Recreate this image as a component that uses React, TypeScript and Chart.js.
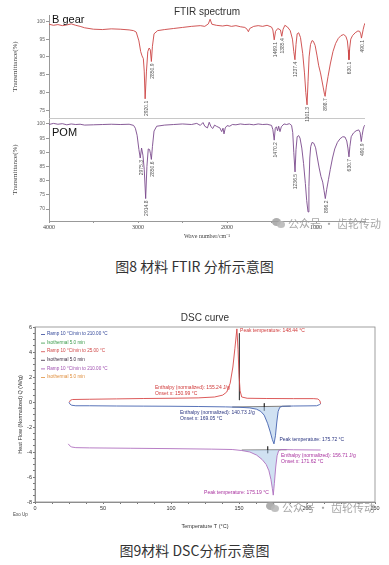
import React, { useEffect, useRef } from 'react';
import { Chart, registerables } from 'chart.js';

Chart.register(...registerables);

const SANS = '"Liberation Sans", Arial, sans-serif';
const SERIF = '"Liberation Serif", "Times New Roman", serif';
const CJK = '"Noto Sans CJK SC", "Noto Sans", sans-serif';

// ---------------- FTIR data ----------------
const ftirTitle = 'FTIR spectrum';
const ftirPanelNames = ['B gear', 'POM'];
const ftirXLabels = [4000, 3000, 2000, 1000];
const ftirXMinor = [3500, 2500, 1500, 500];
const bgearTicks = [75, 80, 85, 90, 95, 100];
const pomTicks = [70, 75, 80, 85, 90, 95, 100];

const bgearWn = [4000, 3950, 3900, 3850, 3800, 3750, 3700, 3650, 3600, 3500, 3400, 3300, 3200, 3100, 3050, 3020, 2990, 2970, 2955, 2940, 2930, 2920, 2905, 2890, 2875, 2862, 2850, 2838, 2820, 2780, 2700, 2600, 2500, 2400, 2300, 2250, 2210, 2190, 2170, 2120, 2050, 2000, 1950, 1900, 1850, 1800, 1775, 1760, 1745, 1700, 1650, 1600, 1550, 1500, 1485, 1470, 1455, 1430, 1400, 1385, 1370, 1350, 1320, 1290, 1265, 1250, 1237, 1225, 1212, 1195, 1175, 1150, 1130, 1115, 1101, 1090, 1078, 1062, 1045, 1030, 1010, 990, 970, 950, 935, 920, 905, 898, 885, 865, 840, 810, 780, 750, 720, 690, 665, 648, 638, 630, 622, 610, 590, 560, 530, 510, 498, 490, 482, 470, 460, 450];
const bgearT = [99.2, 98.9, 99.1, 98.8, 99.0, 99.3, 98.9, 98.6, 98.2, 97.8, 97.7, 97.9, 97.8, 97.6, 97.4, 97.0, 94.5, 91.5, 90.3, 89.5, 86.0, 78.2, 86.0, 91.5, 92.5, 92.0, 88.7, 93.0, 96.5, 97.4, 97.7, 98.0, 98.3, 98.6, 98.8, 98.6, 99.3, 100.6, 99.2, 98.9, 98.7, 98.9, 98.6, 98.8, 98.5, 98.3, 97.8, 97.1, 98.0, 98.6, 98.8, 98.6, 98.9, 98.4, 97.6, 94.8, 97.2, 98.0, 97.6, 95.8, 97.8, 98.9, 98.4, 97.4, 95.0, 91.5, 89.2, 93.5, 96.5, 96.8, 95.5, 91.0, 85.5, 80.0, 76.5, 83.0, 90.0, 93.5, 94.6, 94.4, 93.2, 90.5, 87.5, 85.5, 83.5, 81.5, 79.5, 78.9, 81.5, 84.5, 88.0, 91.5, 93.8, 95.2, 96.0, 96.3, 95.8, 94.5, 92.0, 89.2, 92.5, 95.0, 96.0, 96.8, 97.3, 97.2, 96.5, 95.3, 96.2, 97.8, 98.8, 99.5];

const pomWn = [4000, 3950, 3900, 3850, 3800, 3750, 3700, 3650, 3600, 3500, 3400, 3300, 3200, 3100, 3050, 3030, 3010, 2990, 2975, 2960, 2945, 2930, 2914, 2900, 2885, 2870, 2860, 2850, 2838, 2820, 2790, 2700, 2600, 2500, 2400, 2340, 2300, 2270, 2250, 2220, 2200, 2180, 2160, 2140, 2120, 2080, 2060, 2045, 2034, 2020, 2000, 1970, 1940, 1900, 1850, 1800, 1750, 1700, 1650, 1600, 1550, 1500, 1485, 1470, 1458, 1445, 1432, 1420, 1405, 1390, 1360, 1330, 1300, 1275, 1262, 1250, 1236, 1225, 1212, 1195, 1180, 1160, 1140, 1120, 1105, 1090, 1080, 1070, 1060, 1045, 1025, 1005, 985, 965, 945, 925, 910, 896, 880, 860, 840, 815, 790, 760, 730, 700, 675, 655, 642, 630, 620, 605, 580, 550, 520, 505, 492, 482, 470, 460, 450];
const pomT = [99.8, 100.2, 99.9, 100.1, 99.7, 100.0, 99.8, 99.9, 99.6, 99.7, 99.8, 99.9, 99.8, 99.9, 99.5, 98.5, 96.0, 91.0, 88.0, 91.5, 89.0, 84.0, 73.7, 85.0, 91.2, 91.0, 89.5, 87.5, 92.0, 97.5, 99.2, 99.6, 99.8, 100.0, 99.8, 100.2, 99.5, 100.5, 99.2, 98.6, 100.6, 99.0, 98.4, 99.6, 99.2, 98.6, 97.3, 98.5, 96.5, 98.6, 99.4, 99.2, 99.8, 99.7, 100.0, 99.8, 99.9, 99.7, 100.0, 99.8, 99.9, 99.5, 98.0, 94.3, 98.5, 99.0, 97.6, 99.2, 97.3, 99.0, 100.0, 99.8, 100.1, 99.5, 97.0, 90.0, 83.1, 91.0, 95.5, 95.9, 95.0, 91.5, 86.0, 79.0, 73.0, 69.0, 78.0, 88.0, 92.0, 93.5, 93.2, 91.6, 88.0, 84.5, 81.5, 79.5, 76.5, 73.7, 77.0, 80.5, 84.0, 88.0, 91.2, 93.5, 94.8, 95.5, 95.4, 94.0, 91.5, 88.4, 92.0, 95.5, 96.8, 97.6, 97.9, 97.0, 93.8, 96.0, 98.2, 99.2, 99.6];

const bgearPeakWn = [2920, 2850, 1470, 1385, 1237, 1101, 898, 630, 490];
const bgearPeakT = [78.2, 88.7, 94.8, 95.8, 89.2, 76.5, 78.9, 89.2, 95.3];
const bgearPeakLabels = ['2920.1', '2850.9', '1469.1', '1385.4', '1237.4', '1101.3', '898.7', '630.1', '490.1'];

const pomPeakWn = [2975, 2914, 2850, 1470, 1236, 896, 630, 492];
const pomPeakT = [88.0, 73.7, 87.5, 94.3, 83.1, 73.7, 88.4, 93.8];
const pomPeakLabels = ['2975.3', '2914.8', '2850.6', '1470.2', '1236.5', '896.2', '630.7', '490.9'];

// ---------------- DSC data ----------------
const dscTitle = 'DSC curve';
const dscXLabels = [0, 50, 100, 150, 200, 250];
const dscYLabels = [-8, -6, -4, -2, 0, 2, 4, 6];

const dscRedT = [25.3, 26, 27.5, 40, 60, 80, 100, 120, 132, 138, 141, 143.5, 145.5, 147, 148.44, 149.3, 150, 150.8, 152, 156, 170, 190, 205, 208, 209.5, 210];
const dscRedQ = [-0.02, 0.14, 0.2, 0.22, 0.25, 0.28, 0.3, 0.33, 0.4, 0.55, 0.8, 1.5, 2.8, 4.3, 5.85, 4.2, 2.2, 0.9, 0.4, 0.3, 0.28, 0.27, 0.27, 0.24, 0.1, -0.15];

const dscBlueT = [25, 25.8, 27, 30, 40, 60, 80, 100, 120, 140, 150, 158, 163, 166, 168.5, 171, 173, 174.5, 175.72, 176.8, 177.8, 178.8, 180, 182, 190, 200, 207, 209, 210];
const dscBlueQ = [-0.02, -0.18, -0.26, -0.3, -0.3, -0.32, -0.33, -0.34, -0.36, -0.39, -0.42, -0.47, -0.58, -0.75, -1.05, -1.7, -2.4, -3.0, -3.35, -2.7, -1.6, -0.75, -0.42, -0.34, -0.32, -0.31, -0.3, -0.22, -0.15];

const dscPurpleT = [24.5, 25.5, 27, 30, 40, 70, 100, 130, 145, 152, 158, 163, 167, 170, 172, 173.5, 174.5, 175.19, 176, 177, 178, 179.2, 181, 190, 200, 210];
const dscPurpleQ = [-3.35, -3.5, -3.6, -3.65, -3.67, -3.7, -3.73, -3.77, -3.8, -3.88, -4.0, -4.25, -4.6, -5.0, -5.5, -6.2, -6.9, -7.45, -6.5, -5.2, -4.3, -3.88, -3.8, -3.82, -3.83, -3.84];

const blueBaseT = [145, 188];
const blueBaseQ = [-0.4, -0.33];
const purpleBaseT = [152, 185];
const purpleBaseQ = [-3.84, -3.82];
const redMarkT = [150.3, 150.3];
const redMarkQ = [5.5, 0.15];
const blueMarkT = [168.6, 168.6];
const blueMarkQ = [-0.1, -0.7];
const purpleMarkT = [171.1, 171.1];
const purpleMarkQ = [-3.55, -4.1];

const legendLabels = ['Ramp 10 °C/min to 210.00 °C', 'Isothermal 5.0 min', 'Ramp 10 °C/min to 25.00 °C', 'Isothermal 5.0 min', 'Ramp 10 °C/min to 210.00 °C', 'Isothermal 5.0 min'];
const legendColors = ['#34489a', '#3a9a4a', '#d04848', '#3a2a40', '#a050b0', '#e09040'];

const annoTexts = ['Peak temperature: 148.44 °C', 'Enthalpy (normalized): 155.24 J/g', 'Onset x: 150.99 °C', 'Enthalpy (normalized): 140.73 J/g', 'Onset x: 169.05 °C', 'Peak temperature: 175.72 °C', 'Enthalpy (normalized): 156.71 J/g', 'Onset x: 171.62 °C', 'Peak temperature: 175.19 °C'];
const annoT = [150.8, 88.2, 88.2, 106.6, 106.6, 179.7, 180.9, 180.9, 124.3];
const annoQ = [5.7, 1.18, 0.7, -0.85, -1.33, -3.04, -4.32, -4.77, -7.25];
const annoColors = ['#d03838', '#d03838', '#d03838', '#2a3580', '#2a3580', '#2a3580', '#a8309e', '#a8309e', '#a8309e'];

const pts = (xs: number[], ys: number[]) => xs.map((x, i) => ({ x, y: ys[i] }));

function FtirChart() {
  const ref = useRef<HTMLCanvasElement>(null);
  useEffect(() => {
    const decor = {
      id: 'ftirDecor',
      afterDatasetsDraw(chart: any) {
        const ctx = chart.ctx;
        const ca = chart.chartArea;
        const xs = chart.scales.x;
        const yt = chart.scales.yTop;
        const yb = chart.scales.yBot;
        ctx.save();
        ctx.fillStyle = '#333';
        ctx.font = `10px ${SANS}`;
        ctx.textAlign = 'center';
        ctx.textBaseline = 'middle';
        ctx.fillText(ftirTitle, (ca.left + ca.right) / 2, 12);
        ctx.strokeStyle = '#c8c8c8';
        ctx.lineWidth = 1;
        const sepY = Math.round(Math.min(yt.bottom, yb.bottom) === yt.bottom ? yt.bottom : yb.bottom) + 0.5;
        ctx.beginPath();
        ctx.moveTo(ca.left, sepY);
        ctx.lineTo(ca.right, sepY);
        ctx.stroke();
        ctx.fillStyle = '#111';
        ctx.font = `11px ${SANS}`;
        ctx.textAlign = 'left';
        ctx.textBaseline = 'top';
        ctx.fillText(ftirPanelNames[0], ca.left + 3, yt.top - 1);
        ctx.fillText(ftirPanelNames[1], ca.left + 3, yb.top + 9);
        const drawPeaks = (ys: any, wns: number[], ts: number[], labels: string[]) => {
          ctx.font = `5px ${SANS}`;
          ctx.fillStyle = '#555';
          wns.forEach((w, i) => {
            const px = xs.getPixelForValue(w) + 1;
            const py = ys.getPixelForValue(ts[i]) + 2;
            ctx.save();
            ctx.translate(px, py);
            ctx.rotate(-Math.PI / 2);
            ctx.textAlign = 'right';
            ctx.textBaseline = 'middle';
            ctx.fillText(labels[i], 0, 0);
            ctx.restore();
          });
        };
        drawPeaks(yt, bgearPeakWn, bgearPeakT, bgearPeakLabels);
        drawPeaks(yb, pomPeakWn, pomPeakT, pomPeakLabels);
        ctx.restore();
      },
    };
    const yCommon = (ticks: number[], min: number, max: number) => ({
      type: 'linear',
      position: 'left',
      stack: 'ftir',
      stackWeight: 1,
      min,
      max,
      afterBuildTicks: (s: any) => { s.ticks = ticks.map((v) => ({ value: v })); },
      afterFit: (s: any) => { s.width = 49; },
      ticks: { font: { size: 5, family: SANS }, color: '#666', padding: 1 },
      grid: { drawOnChartArea: false, tickLength: 3, color: '#999' },
      border: { color: '#999', width: 1 },
      title: { display: true, text: 'Transmittance(%)', font: { size: 7, family: SERIF }, color: '#444', padding: { top: 11, bottom: 0 } },
    });
    const chart = new Chart(ref.current as HTMLCanvasElement, {
      type: 'line',
      data: {
        datasets: [
          { label: ftirPanelNames[0], data: pts(bgearWn, bgearT), yAxisID: 'yTop', borderColor: '#cc4444', borderWidth: 0.9, pointRadius: 0, fill: false, tension: 0 },
          { label: ftirPanelNames[1], data: pts(pomWn, pomT), yAxisID: 'yBot', borderColor: '#7a4a8c', borderWidth: 0.9, pointRadius: 0, fill: false, tension: 0 },
        ],
      } as any,
      options: {
        animation: false,
        responsive: false,
        devicePixelRatio: 1,
        layout: { padding: { left: 0, right: 24, top: 15, bottom: 0 } },
        plugins: { legend: { display: false }, tooltip: { enabled: false } },
        scales: {
          x: {
            type: 'linear',
            reverse: true,
            min: 450,
            max: 4000,
            afterBuildTicks: (s: any) => { s.ticks = [...ftirXLabels, ...ftirXMinor].sort((a, b) => b - a).map((v) => ({ value: v })); },
            afterFit: (s: any) => { s.height = 19; },
            ticks: { autoSkip: false, maxRotation: 0, font: { size: 6, family: SERIF }, color: '#444', padding: 1, callback: (v: any) => (ftirXLabels.includes(v) ? String(v) : '') },
            grid: { drawOnChartArea: false, tickLength: 2, color: '#999' },
            border: { color: '#999', width: 1 },
            title: { display: true, text: 'Wave number/cm⁻¹', font: { size: 6, family: SERIF }, color: '#444', padding: { top: 3.5, bottom: 0 } },
          },
          yBot: yCommon(pomTicks, 65.8, 102.1),
          yTop: yCommon(bgearTicks, 72.8, 101.8),
        } as any,
      },
      plugins: [decor],
    });
    return () => chart.destroy();
  }, []);
  return <canvas ref={ref} width={389} height={240} style={{ position: 'absolute', left: 0, top: 0, width: 389, height: 240 }} />;
}

function DscChart() {
  const ref = useRef<HTMLCanvasElement>(null);
  useEffect(() => {
    const decor = {
      id: 'dscDecor',
      afterDatasetsDraw(chart: any) {
        const ctx = chart.ctx;
        const ca = chart.chartArea;
        const xs = chart.scales.x;
        const ys = chart.scales.y;
        ctx.save();
        ctx.strokeStyle = '#888';
        ctx.lineWidth = 0.8;
        ctx.strokeRect(ca.left, ca.top, ca.right - ca.left, ca.bottom - ca.top);
        ctx.fillStyle = '#333';
        ctx.font = `10px ${SANS}`;
        ctx.textAlign = 'center';
        ctx.textBaseline = 'middle';
        ctx.fillText(dscTitle, (ca.left + ca.right) / 2, 18);
        // legend
        ctx.font = `4.6px ${SANS}`;
        ctx.textAlign = 'left';
        legendLabels.forEach((t, i) => {
          const y = ca.top + 7 + i * 8.6;
          ctx.strokeStyle = legendColors[i];
          ctx.lineWidth = 0.8;
          ctx.beginPath();
          ctx.moveTo(ca.left + 6, y + 0.5);
          ctx.lineTo(ca.left + 10, y + 0.5);
          ctx.stroke();
          ctx.fillStyle = legendColors[i];
          ctx.fillText(t, ca.left + 12, y);
        });
        // annotations
        ctx.font = `5px ${SANS}`;
        annoTexts.forEach((t, i) => {
          ctx.fillStyle = annoColors[i];
          ctx.fillText(t, xs.getPixelForValue(annoT[i]), ys.getPixelForValue(annoQ[i]));
        });
        ctx.fillStyle = '#444';
        ctx.font = `4.5px ${SANS}`;
        ctx.fillText('Exo Up', 13, 215);
        ctx.restore();
      },
    };
    const line = (data: any, color: string, width = 0.9, extra: any = {}) => ({ data, borderColor: color, borderWidth: width, pointRadius: 0, tension: 0, fill: false, ...extra });
    const chart = new Chart(ref.current as HTMLCanvasElement, {
      type: 'line',
      data: {
        datasets: [
          line(pts(dscBlueT, dscBlueQ), '#4563b0', 0.9, { fill: { target: { value: -0.4 }, above: 'rgba(0,0,0,0)', below: 'rgba(170,200,232,0.55)' } }),
          line(pts(dscPurpleT, dscPurpleQ), '#b070c0', 0.9, { fill: { target: { value: -3.84 }, above: 'rgba(0,0,0,0)', below: 'rgba(170,200,232,0.55)' } }),
          line(pts(dscRedT, dscRedQ), '#d84848', 0.9),
          line(pts(blueBaseT, blueBaseQ), '#222', 0.6),
          line(pts(purpleBaseT, purpleBaseQ), '#222', 0.6),
          line(pts(redMarkT, redMarkQ), '#333', 0.6),
          line(pts(blueMarkT, blueMarkQ), '#222', 0.6),
          line(pts(purpleMarkT, purpleMarkQ), '#222', 0.6),
        ],
      } as any,
      options: {
        animation: false,
        responsive: false,
        devicePixelRatio: 1,
        layout: { padding: { left: 0, right: 14, top: 27, bottom: 0 } },
        plugins: { legend: { display: false }, tooltip: { enabled: false } },
        scales: {
          x: {
            type: 'linear',
            min: 0,
            max: 250,
            afterBuildTicks: (s: any) => { const t = []; for (let v = 0; v <= 250; v += 12.5) t.push({ value: v }); s.ticks = t; },
            afterFit: (s: any) => { s.height = 28; },
            ticks: { autoSkip: false, maxRotation: 0, font: { size: 5.5, family: SANS }, color: '#333', padding: 1, callback: (v: any) => (dscXLabels.includes(v) ? String(v) : '') },
            grid: { drawOnChartArea: false, tickLength: 2, color: '#777' },
            border: { color: '#777', width: 0.8 },
            title: { display: true, text: 'Temperature T (°C)', font: { size: 5.5, family: SANS }, color: '#333', padding: { top: 8.7, bottom: 0 } },
          },
          y: {
            type: 'linear',
            min: -8,
            max: 6,
            afterBuildTicks: (s: any) => { const t = []; for (let v = -8; v <= 6; v += 0.5) t.push({ value: v }); s.ticks = t; },
            afterFit: (s: any) => { s.width = 35; },
            ticks: { autoSkip: false, font: { size: 5.5, family: SANS }, color: '#333', padding: 1, callback: (v: any) => (dscYLabels.includes(v) ? String(v) : '') },
            grid: { drawOnChartArea: false, tickLength: 2, color: '#777' },
            border: { color: '#777', width: 0.8 },
            title: { display: true, text: 'Heat Flow (Normalized) Q (W/g)', font: { size: 5.5, family: SANS }, color: '#333', padding: { top: 16.7, bottom: 0 } },
          },
        } as any,
      },
      plugins: [decor],
    });
    return () => chart.destroy();
  }, []);
  return <canvas ref={ref} width={389} height={230} style={{ position: 'absolute', left: 0, top: 300, width: 389, height: 230 }} />;
}

function Watermark({ left, top }: { left: number; top: number }) {
  return (
    <div style={{ position: 'absolute', left, top, display: 'flex', alignItems: 'center', color: 'rgba(150,150,150,0.85)', fontFamily: CJK, fontSize: 11, whiteSpace: 'nowrap', lineHeight: '12px' }}>
      <span style={{ position: 'relative', display: 'inline-block', width: 13, height: 10, marginRight: 3 }}>
        <span style={{ position: 'absolute', left: 0, top: 0, width: 9, height: 8, borderRadius: '50%', background: 'rgba(160,160,160,0.85)' }} />
        <span style={{ position: 'absolute', left: 5, top: 3, width: 8, height: 7, borderRadius: '50%', background: 'rgba(185,185,185,0.9)' }} />
      </span>
      <span>公众号 · 齿轮传动</span>
    </div>
  );
}

export default function App() {
  return (
    <div style={{ position: 'absolute', left: 0, top: 0, width: 389, height: 565, background: '#fff', overflow: 'hidden' }}>
      <FtirChart />
      <Watermark left={272} top={217} />
      <div style={{ position: 'absolute', left: 0, top: 257, width: 389, textAlign: 'center', fontFamily: CJK, fontSize: 14, color: '#333', lineHeight: '18px' }}>图8 材料 FTIR 分析示意图</div>
      <DscChart />
      <Watermark left={266} top={501} />
      <div style={{ position: 'absolute', left: 0, top: 541, width: 389, textAlign: 'center', fontFamily: CJK, fontSize: 14, color: '#333', lineHeight: '18px' }}>图9材料 DSC分析示意图</div>
    </div>
  );
}
